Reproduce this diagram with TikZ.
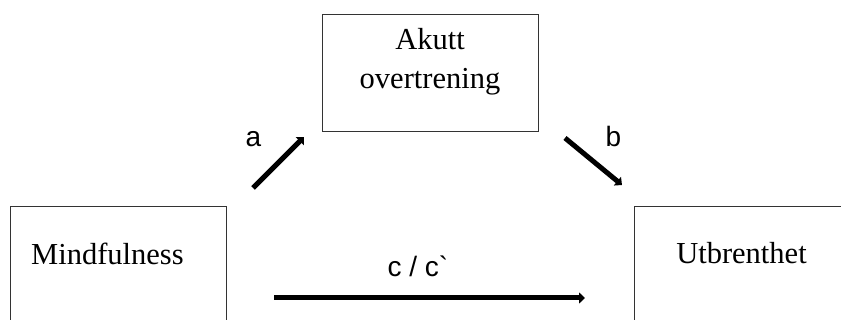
\documentclass[tikz,border=0pt]{standalone}
\usepackage{fontspec}
\setmainfont{Liberation Serif}
\newfontfamily\arialfont[Ligatures=TeXOff]{Liberation Sans}
\usetikzlibrary{arrows.meta}
\begin{document}
\begin{tikzpicture}[x=1pt,y=-1pt,
  box/.style={draw=black!80, line width=1.1pt, anchor=north west, inner sep=0pt},
  boxtext/.style={font=\fontsize{30.5}{39}\selectfont, inner sep=0pt},
  pathlabel/.style={font=\arialfont\fontsize{28}{32}\selectfont, inner sep=0pt, anchor=base},
  effect/.style={line width=5pt, -{Triangle[length=6pt,width=11pt]}}]
\useasboundingbox (0,0) rectangle (841,320);
\clip (0,0) rectangle (841,320);
% boxes
\node[box, minimum width=216pt, minimum height=117pt] (med) at (322,14) {};
\node[box, minimum width=216pt, minimum height=150pt] (mind) at (10,206) {};
\node[box, minimum width=230pt, minimum height=150pt] (utb) at (634,206) {};
% box texts
\node[boxtext, anchor=base] (medtop) at (430,50) {Akutt};
\node[boxtext, anchor=base] (medbot) at (430,89) {overtrening};
\node[boxtext, anchor=base west] (mindtext) at (31,265) {Mindfulness};
\node[boxtext, anchor=base] (utbtext) at (741.5,264) {Utbrenthet};
% arrow end points
\coordinate (aS) at (253,188);
\coordinate (aE) at (304,137);
\coordinate (bS) at (565,138);
\coordinate (bE) at (622,185);
\coordinate (cS) at (274,298);
\coordinate (cE) at (585,298);
\draw[effect] (aS) -- (aE);
\draw[effect] (bS) -- (bE);
\draw[effect] (cS) -- (cE);
% labels
\node[pathlabel] (la) at (253.5,147) {a};
\node[pathlabel] (lb) at (613.5,147) {b};
\node[pathlabel] (lc) at (418,277) {c / c`};
\end{tikzpicture}
\end{document}
